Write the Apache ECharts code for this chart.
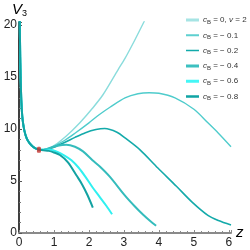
<!DOCTYPE html>
<html><head><meta charset="utf-8">
<script src="https://cdn.jsdelivr.net/npm/echarts@6/dist/echarts.min.js"></script>
<style>html,body{margin:0;padding:0;background:#fff}#c{width:250px;height:250px}</style>
</head><body><div id="c"></div>
<script>
// common descending part near z = 0
const headZ = [0.005, 0.02, 0.035, 0.05, 0.07, 0.1, 0.15, 0.22, 0.3, 0.4, 0.5, 0.6];
const headV = [30, 21, 17, 14.5, 12.5, 11, 9.9, 9.1, 8.65, 8.3, 8.1, 8.0];

const aZ = [0.7, 0.85, 1.0, 1.2, 1.5, 1.74, 2.1, 2.4, 2.83, 3.03, 3.3, 3.57, 3.7];
const aV = [8.02, 8.15, 8.4, 8.9, 9.8, 10.6, 12.0, 13.3, 15.7, 16.8, 18.5, 20.3, 21.2];

const bZ = [0.7, 0.85, 1.0, 1.3, 1.6, 2.0, 2.3, 2.6, 3.03, 3.4, 3.72, 4.0, 4.46, 5.0, 5.4, 5.7, 6.06];
const bV = [8.02, 8.12, 8.35, 8.9, 9.6, 10.6, 11.4, 12.1, 13.0, 13.4, 13.5, 13.45, 13.0, 11.9, 10.6, 9.6, 8.3];

const cZ = [0.7, 0.85, 1.0, 1.3, 1.6, 1.9, 2.2, 2.45, 2.8, 3.03, 3.46, 3.97, 4.5, 4.94, 5.4, 5.7, 6.06];
const cV = [8.0, 8.1, 8.25, 8.7, 9.2, 9.65, 9.95, 10.05, 9.7, 9.15, 8.0, 6.25, 4.5, 3.0, 1.7, 1.2, 0.77];

const dZ = [0.7, 0.9, 1.1, 1.35, 1.6, 1.83, 2.1, 2.31, 2.6, 3.03, 3.3, 3.55, 3.75, 3.92];
const dV = [8.0, 8.2, 8.4, 8.5, 8.3, 7.85, 7.0, 6.4, 5.4, 3.6, 2.6, 1.75, 1.15, 0.7];

const eZ = [0.7, 0.9, 1.1, 1.3, 1.5, 1.7, 1.9, 2.1, 2.3, 2.5, 2.66];
const eV = [8.0, 8.0, 7.8, 7.45, 7.0, 6.3, 5.4, 4.4, 3.5, 2.6, 1.8];

const fZ = [0.7, 0.85, 1.0, 1.17, 1.4, 1.65, 1.8, 1.95, 2.11];
const fV = [7.95, 7.9, 7.75, 7.5, 6.8, 5.5, 4.7, 3.7, 2.45];

const seriesNames = ['c0', 'c1', 'c2', 'c4', 'c6', 'c8'];
const legendLabels = ['{i|c}{s|B} = 0, {i|v} = 2', '{i|c}{s|B} = − 0.1', '{i|c}{s|B} = − 0.2',
                      '{i|c}{s|B} = − 0.4', '{i|c}{s|B} = − 0.6', '{i|c}{s|B} = − 0.8'];
const colors = ['#8adcdc', '#4fcccc', '#14aaaa', '#34bcbc', '#30f0f0', '#12a2a2'];
const legendColors = ['#a6e4e4', '#5ed0d0', '#12aaaa', '#3cc0c0', '#44f6f6', '#10a4a4'];
const widths = [1.4, 1.4, 1.6, 2.0, 2.0, 2.0];
const legendThick = [3, 2, 1.5, 3, 3, 2.5];
const tails = [[aZ, aV], [bZ, bV], [cZ, cV], [dZ, dV], [eZ, eV], [fZ, fV]];

const dotZ = [0.57];
const dotV = [8.0];

const xTicks = [0, 1, 2, 3, 4, 5, 6];
const yTicks = [0, 5, 10, 15, 20];

function pts(zs, vs) { return zs.map((z, i) => [z, vs[i]]); }
function barIcon(t) {
  const a = (10 - t) / 2, b = a + t;
  return 'path://M0,0H13V0.01H0Z M0,' + a + 'H13V' + b + 'H0Z M0,9.99H13V10H0Z';
}

const series = tails.map((t, k) => ({
  name: seriesNames[k],
  type: 'line',
  data: pts(headZ, headV).concat(pts(t[0], t[1])),
  showSymbol: false,
  symbol: 'none',
  smooth: 0.3,
  clip: true,
  lineStyle: { color: colors[k], width: widths[k] },
  itemStyle: { color: colors[k] },
  z: 2 + k
}));
series.push({
  type: 'scatter',
  data: pts(dotZ, dotV),
  symbol: 'roundRect',
  symbolSize: [4, 6],
  itemStyle: { color: '#c4302b' },
  z: 20
});

const chart = echarts.init(document.getElementById('c'), null, { renderer: 'canvas' });
chart.setOption({
  animation: false,
  grid: { left: 19, right: 19, top: 22, bottom: 17, containLabel: false },
  xAxis: {
    type: 'value', min: 0, max: 6.06, interval: 1,
    axisLine: { show: true, lineStyle: { color: '#8a8a8a', width: 2 } },
    axisTick: { show: true, inside: true, length: 3, lineStyle: { color: '#8a8a8a' } },
    minorTick: { show: true, splitNumber: 5, length: 2, lineStyle: { color: '#8a8a8a' } },
    splitLine: { show: false },
    axisLabel: {
      margin: 4, color: '#222', fontSize: 12, fontFamily: 'Liberation Sans',
      formatter: v => (xTicks.indexOf(Math.round(v * 1000) / 1000) >= 0 ? String(v) : '')
    }
  },
  yAxis: {
    type: 'value', min: 0, max: 20.3, interval: 5,
    axisLine: { show: true, lineStyle: { color: '#000', width: 1.5 } },
    axisTick: { show: true, inside: true, length: 3, lineStyle: { color: '#555' } },
    minorTick: { show: true, splitNumber: 5, length: 2, lineStyle: { color: '#777' } },
    splitLine: { show: false },
    axisLabel: {
      margin: 2, color: '#222', fontSize: 12, fontFamily: 'Liberation Sans',
      formatter: v => (yTicks.indexOf(Math.round(v * 1000) / 1000) >= 0 ? String(v) : '')
    }
  },
  legend: {
    orient: 'vertical', left: 181, top: 10,
    itemWidth: 13, itemHeight: 10, itemGap: 5.3,
    data: seriesNames.map((n, k) => ({
      name: n, icon: barIcon(legendThick[k]),
      itemStyle: { color: legendColors[k], borderWidth: 0 }
    })),
    formatter: name => legendLabels[seriesNames.indexOf(name)],
    textStyle: {
      color: '#333', fontSize: 8, fontFamily: 'Liberation Sans', padding: [0, 0, 0, -1],
      rich: {
        i: { fontStyle: 'italic', fontSize: 8, color: '#333', fontFamily: 'Liberation Sans' },
        s: { fontSize: 6, color: '#333', padding: [4, 0, 0, 0], fontFamily: 'Liberation Sans' }
      }
    }
  },
  graphic: [
    {
      type: 'text', left: 12, top: 2,
      style: {
        text: '{v|V}{s|3}', fill: '#000',
        rich: {
          v: { fontStyle: 'italic', fontSize: 15, fontFamily: 'Liberation Sans', fill: '#000' },
          s: { fontSize: 9, fontFamily: 'Liberation Sans', padding: [8, 0, 0, 0], fill: '#000' }
        }
      }
    },
    {
      type: 'text', left: 236, top: 225,
      style: { text: 'z', fontStyle: 'italic', fontSize: 15, fontFamily: 'Liberation Sans', fill: '#000' }
    }
  ],
  series: series
});
</script>
</body></html>
